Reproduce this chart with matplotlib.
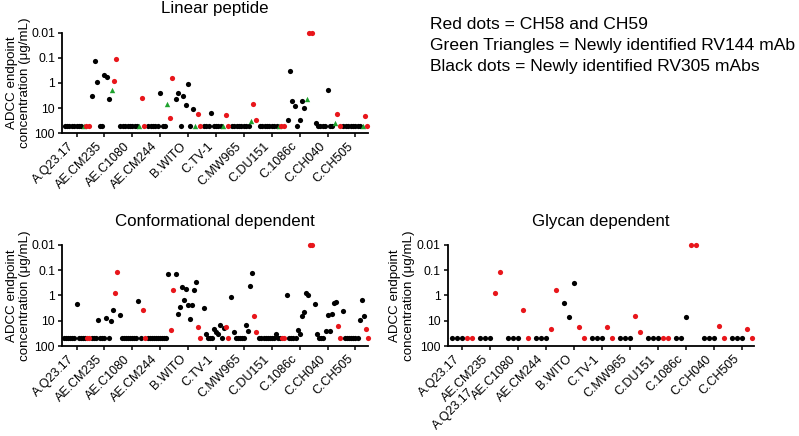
import matplotlib
matplotlib.use("Agg")
import matplotlib.pyplot as plt
from matplotlib.ticker import NullLocator

plt.rcParams['font.family'] = ['Liberation Sans', 'DejaVu Sans']

categories = ["A.Q23.17", "AE.CM235", "AE.C1080", "AE.CM244", "B.WITO", "C.TV-1",
              "C.MW965", "C.DU151", "C.1086c", "C.CH040", "C.CH505"]

# 50 = no activity (plotted on the bottom row)
linear_black = [
    [50, 50, 50, 50, 50, 50, 50, 50],
    [3.4, 0.13, 0.93, 50, 50, 0.47, 0.58, 4.3],
    [50, 50, 50, 50, 50, 50, 50, 50],
    [50, 50, 50, 50, 50, 2.6, 50, 50],
    [4.3, 2.4, 50, 3.3, 7.7, 1.07, 50, 10.8],
    [50, 50, 50, 16, 50, 50, 50, 50],
    [50, 50, 50, 50, 50, 50, 50, 50],
    [50, 50, 50, 50, 50, 50, 50, 50],
    [29, 0.33, 5.4, 8.5, 50, 31, 5.2, 10],
    [38, 50, 50, 50, 50, 1.9, 50, 50],
    [50, 50, 50, 50, 50, 50, 50, 50],
]
linear_green = [50, 1.9, 50, 6.6, 50, 50, 32, 50, 4.3, 38, 50]
linear_red = [[50, 50], [0.83, 0.115], [3.8, 50], [24, 0.62], [17.6, 50], [18.8, 50],
              [6.9, 30], [50, 50], [0.01, 0.01], [16.6, 50], [21, 50]]

conf_black = [
    [50, 50, 50, 50, 50, 50, 2.1, 50, 50, 50, 50],
    [50, 50, 50, 9.6, 50, 50, 50, 8, 50, 10, 3.7],
    [5.9, 50, 50, 50, 50, 50, 50, 50, 50, 1.6, 50],
    [50, 50, 50, 50, 50, 50, 50, 50, 50, 50, 0.14],
    [0.14, 5.3, 2.8, 0.48, 1.5, 0.56, 2.4, 8.7, 2.4, 0.6, 0.3],
    [3.0, 33, 50, 50, 50, 21, 27, 33, 15, 50, 20],
    [1.1, 29, 50, 50, 50, 50, 50, 15, 25, 0.42, 0.13],
    [50, 50, 50, 50, 50, 50, 50, 50, 33, 50, 50],
    [0.95, 50, 50, 50, 50, 23, 35, 6.5, 4.4, 0.82, 1.0],
    [2.2, 32, 50, 50, 50, 25, 5.9, 25, 5.3, 2.0, 1.75],
    [4.0, 50, 50, 50, 50, 50, 50, 50, 9.3, 1.5, 6.3],
]
conf_red = [[50, 50], [0.81, 0.115], [3.7, 50], [23, 0.6], [17, 50], [17, 50],
            [6.5, 29], [50, 50], [0.01, 0.01], [16, 50], [21, 50]]

glycan_black = [[50, 50, 50], [50, 50, 50], [50, 50, 50], [50, 50, 50], [1.9, 6.9, 0.31],
                [50, 50, 50], [50, 50, 50], [50, 50, 50], [50, 50, 6.9], [50, 50, 50],
                [50, 50, 50]]
glycan_red = [[50, 50], [0.81, 0.115], [3.7, 50], [22, 0.6], [17, 50], [18, 50],
              [6.5, 29], [50, 50], [0.01, 0.01], [16, 50], [21, 50]]

RED = "#e8161b"
GREEN = "#1fa22e"
BLACK = "#000000"


def draw_panel(ax, black, red, green=None, step=0.086):
    for i in range(len(categories)):
        vals = list(black[i])
        cols = ["k"] * len(vals)
        if green is not None:
            vals.append(green[i])
            cols.append("g")
        vals += red[i]
        cols += ["r"] * len(red[i])
        n = len(vals)
        for j, (v, c) in enumerate(zip(vals, cols)):
            x = i + (j - (n - 1) / 2) * step
            if c == "g":
                ax.scatter(x, v, marker="^", s=15, color=GREEN, linewidths=0, clip_on=False, zorder=3)
            elif c == "r":
                ax.scatter(x, v, marker="o", s=14, color=RED, linewidths=0, clip_on=False, zorder=3)
            else:
                ax.scatter(x, v, marker="o", s=14, color=BLACK, linewidths=0, clip_on=False, zorder=2)


def style_axis(ax, title, label_x=-0.106):
    ax.set_yscale("log")
    ax.set_ylim(100, 0.01)
    ax.set_yticks([0.01, 0.1, 1, 10, 100])
    ax.set_yticklabels(["0.01", "0.1", "1", "10", "100"])
    ax.yaxis.set_minor_locator(NullLocator())
    ax.set_xlim(-0.52, 10.45)
    ax.set_xticks(range(len(categories)))
    ax.set_xticklabels(categories, rotation=45, ha="right")
    ax.tick_params(labelsize=8.7, width=1.1, length=3, direction="out", pad=2)
    ax.tick_params(axis="x", labelsize=9)
    for s in ["top", "right"]:
        ax.spines[s].set_visible(False)
    for s in ["left", "bottom"]:
        ax.spines[s].set_linewidth(1.3)
    ax.set_ylabel("ADCC endpoint\nconcentration (\u03bcg/mL)", fontsize=9.6)
    ax.yaxis.set_label_coords(label_x, 0.5)
    ax.set_title(title, fontsize=12.2, pad=14)


fig = plt.figure(figsize=(7.99, 4.36), dpi=100)

ax1 = fig.add_axes([0.0776, 0.6943, 0.383, 0.2307])
draw_panel(ax1, linear_black, linear_red, linear_green, step=0.086)
style_axis(ax1, "Linear peptide", label_x=-0.1)

ax2 = fig.add_axes([0.0776, 0.2064, 0.383, 0.2317])
draw_panel(ax2, conf_black, conf_red, step=0.074)
style_axis(ax2, "Conformational dependent", label_x=-0.1)

ax3 = fig.add_axes([0.5603, 0.2064, 0.3838, 0.2317])
draw_panel(ax3, glycan_black, glycan_red, step=0.179)
style_axis(ax3, "Glycan dependent")
ax3.annotate("A.Q23.17", xy=(1, 0), xycoords=("data", "axes fraction"),
             xytext=(-10, -29), textcoords="offset points",
             rotation=45, ha="right", va="top", fontsize=9)

fig.text(0.538, 0.944, "Red dots = CH58 and CH59", fontsize=12.6, va="center")
fig.text(0.538, 0.896, "Green Triangles = Newly identified RV144 mAb", fontsize=12.6, va="center")
fig.text(0.538, 0.847, "Black dots = Newly identified RV305 mAbs", fontsize=12.6, va="center")

fig.savefig("out.png", dpi=100)
